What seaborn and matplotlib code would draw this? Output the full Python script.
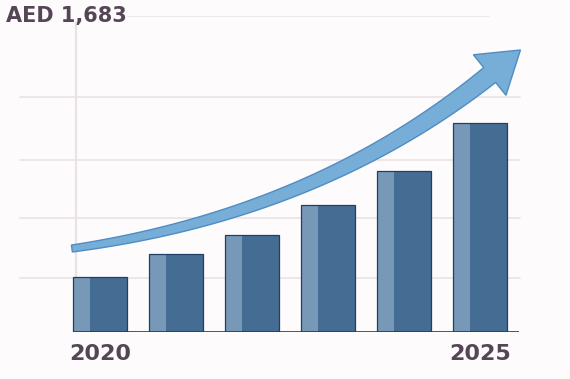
import numpy as np
import pandas as pd
import matplotlib
matplotlib.use("Agg")
import matplotlib.pyplot as plt
import seaborn as sns
from matplotlib.patches import Polygon
from matplotlib.transforms import IdentityTransform

# data
years = ["2020", "2021", "2022", "2023", "2024", "2025"]
values = [55, 78, 97, 127, 161, 209]
tick_labels = ["2020", "", "", "", "", "2025"]
grid_levels = [54, 114, 172, 235]
title = "AED 1,683"

bar_dark = "#456d94"
bar_light = "#7898b8"
bar_edge = "#1f3f66"
arrow_fill = "#76aed8"
arrow_edge = "#4f8cc4"
grid_col = "#ebe2e6"
text_col = "#544655"
bg = "#fdfbfb"

sns.set_theme(style="white")
plt.rcParams['font.family'] = ['DejaVu Sans']

W, H = 570, 379
fig = plt.figure(figsize=(W / 100, H / 100), dpi=100, facecolor=bg)
ax = fig.add_axes([10 / W, 1 - 332 / H, 515 / W, 316 / H])
ax.set_facecolor(bg)

df = pd.DataFrame({"year": years, "value": values})
bw = 0.71
sns.barplot(data=df, x="year", y="value", color=bar_dark, width=bw,
            saturation=1, linewidth=0, ax=ax, zorder=3)
x = np.arange(len(years))
# lighter left face of each bar
ax.bar(x - bw / 2, values, width=bw * 0.315, align="edge",
       color=bar_light, linewidth=0, zorder=4)
ax.bar(x, values, width=bw, fill=False, edgecolor=bar_edge, linewidth=0.9, zorder=5)

ax.set_xlim(-1.19, 5.59)
ax.set_ylim(0, 316)

# grid
for g in grid_levels:
    ax.axhline(g, xmin=0.02, xmax=0.99, color=grid_col, lw=1.2, zorder=1)
ax.axhline(316, xmin=0.23, xmax=0.93, color=grid_col, lw=1.2, zorder=1)
ax.axvline(-0.32, ymin=0, ymax=0.98, color=grid_col, lw=1.6, zorder=1)
ax.hlines(0, -bw / 2, len(years) - 1 + bw / 2 + 0.16, color="#3b3545", lw=1.2, zorder=6)

for s in ax.spines.values():
    s.set_visible(False)
ax.set_xticks(x, tick_labels)
ax.set_yticks([])
ax.set_xlabel("")
ax.set_ylabel("")
ax.tick_params(axis="x", length=0, pad=9, labelsize=16, labelcolor=text_col)
for lab in ax.get_xticklabels():
    lab.set_fontweight("bold")

# growth arrow (quadratic bezier with tapering shaft)
p0 = ax.transData.transform((-0.375, 83.5))
p1 = ax.transData.transform((2.85, 118))
p2 = ax.transData.transform((5.125, 257))
tip = ax.transData.transform((5.53, 282))
t = np.linspace(0, 1, 80)[:, None]
pts = (1 - t) ** 2 * p0 + 2 * (1 - t) * t * p1 + t ** 2 * p2
d = 2 * (1 - t) * (p1 - p0) + 2 * t * (p2 - p1)
d = d / np.linalg.norm(d, axis=1, keepdims=True)
n = np.column_stack([-d[:, 1], d[:, 0]])
w = (7 + 12 * t) / 2
left = pts + n * w
right = pts - n * w
ne = n[-1]
poly = np.vstack([left, p2 + ne * 26, tip, p2 - ne * 26, right[::-1]])
ax.add_patch(Polygon(poly, closed=True, facecolor=arrow_fill, edgecolor=arrow_edge,
                     lw=1.0, transform=IdentityTransform(), zorder=7))

fig.text(6 / W, 1 - 22 / H, title, fontsize=15, fontweight="bold",
         color=text_col, ha="left", va="baseline")

fig.savefig("out.png", dpi=100, facecolor=bg)
